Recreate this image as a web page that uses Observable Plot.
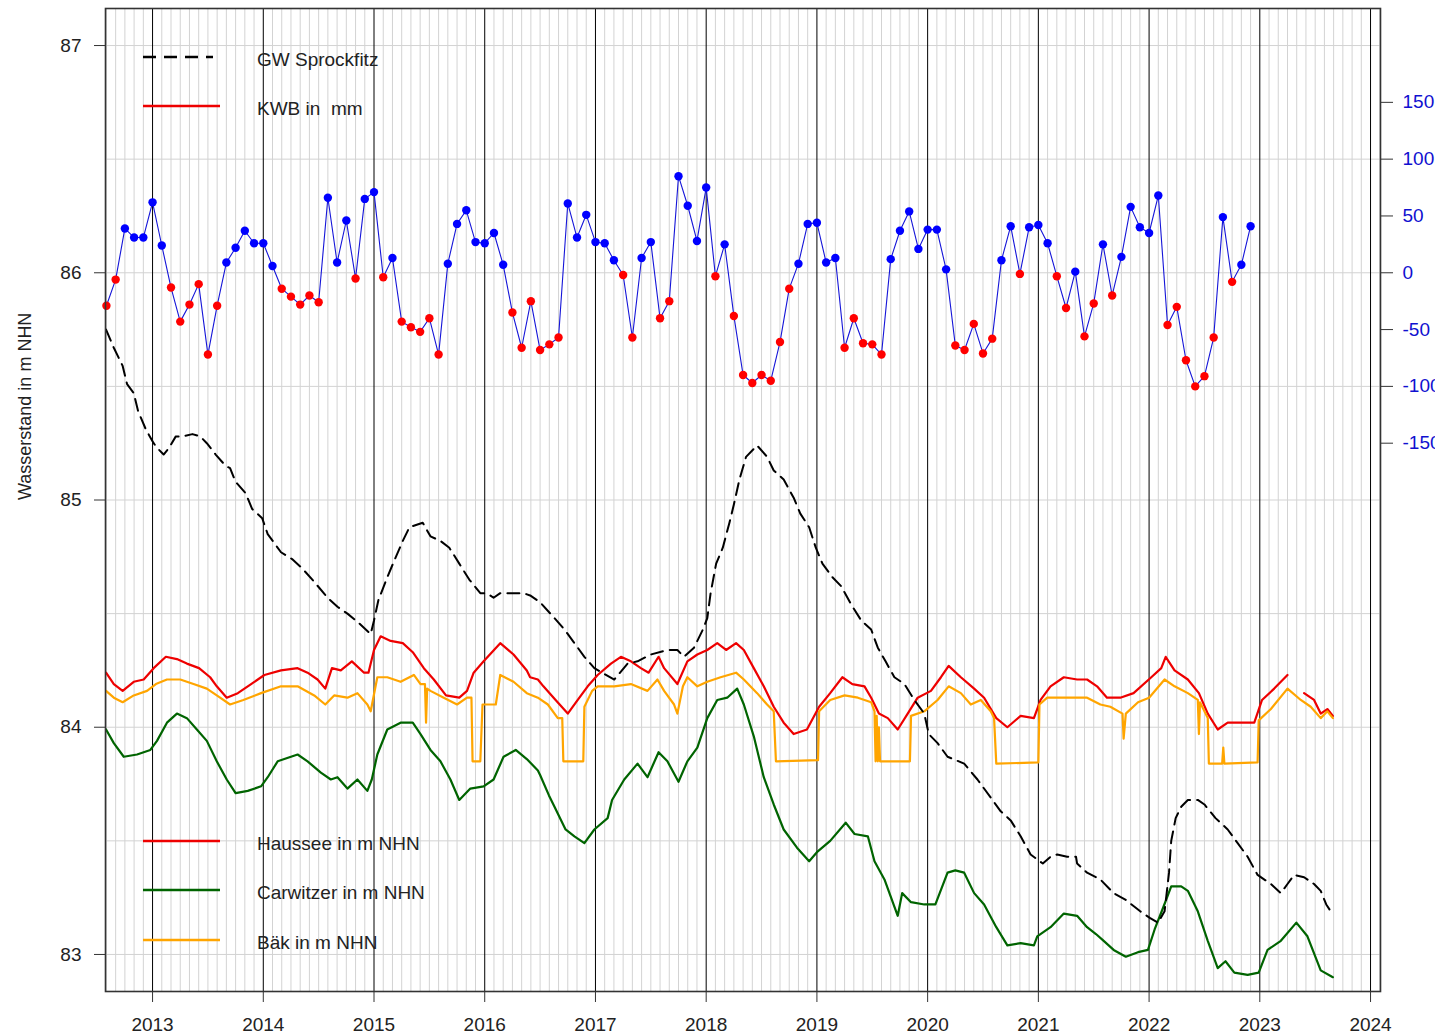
<!DOCTYPE html>
<html>
<head>
<meta charset="utf-8">
<script src="https://cdn.jsdelivr.net/npm/d3@7"></script>
<script src="https://cdn.jsdelivr.net/npm/@observablehq/plot@0.6"></script>
<style>
  html, body { margin: 0; padding: 0; background: #fff; }
  #chart { width: 1435px; height: 1035px; }
</style>
</head>
<body>
<div id="chart"></div>
<script>
// ---------- DATA (time in decimal years, levels in m NHN) ----------
const years = [2013, 2014, 2015, 2016, 2017, 2018, 2019, 2020, 2021, 2022, 2023, 2024];
const leftTicks = [83, 84, 85, 86, 87];
const rightTicksMm = [-150, -100, -50, 0, 50, 100, 150];

const gwSprockfitz = [[2012.58,85.75],[2012.65,85.67],[2012.73,85.59],[2012.77,85.51],[2012.83,85.47],[2012.87,85.39],[2012.94,85.31],[2013.01,85.25],[2013.04,85.23],[2013.10,85.20],[2013.15,85.23],[2013.21,85.28],[2013.27,85.28],[2013.36,85.29],[2013.43,85.28],[2013.49,85.25],[2013.57,85.20],[2013.66,85.15],[2013.70,85.14],[2013.75,85.08],[2013.84,85.03],[2013.90,84.96],[2013.99,84.92],[2014.04,84.85],[2014.10,84.81],[2014.16,84.77],[2014.26,84.74],[2014.35,84.70],[2014.46,84.64],[2014.58,84.57],[2014.67,84.53],[2014.76,84.50],[2014.86,84.46],[2014.97,84.41],[2015.00,84.47],[2015.04,84.56],[2015.12,84.66],[2015.18,84.73],[2015.26,84.82],[2015.32,84.88],[2015.44,84.90],[2015.51,84.84],[2015.60,84.82],[2015.68,84.79],[2015.77,84.72],[2015.86,84.65],[2015.96,84.59],[2016.02,84.59],[2016.08,84.57],[2016.14,84.59],[2016.25,84.59],[2016.35,84.59],[2016.41,84.58],[2016.50,84.55],[2016.63,84.48],[2016.72,84.43],[2016.81,84.37],[2016.90,84.31],[2016.99,84.26],[2017.06,84.24],[2017.17,84.21],[2017.29,84.28],[2017.38,84.29],[2017.50,84.32],[2017.65,84.34],[2017.74,84.34],[2017.80,84.31],[2017.89,84.35],[2017.97,84.43],[2018.01,84.48],[2018.04,84.59],[2018.09,84.72],[2018.15,84.79],[2018.21,84.90],[2018.25,84.98],[2018.30,85.09],[2018.36,85.19],[2018.46,85.24],[2018.55,85.19],[2018.61,85.13],[2018.70,85.09],[2018.79,85.01],[2018.85,84.94],[2018.93,84.88],[2018.99,84.79],[2019.05,84.72],[2019.14,84.66],[2019.22,84.62],[2019.31,84.54],[2019.40,84.47],[2019.49,84.43],[2019.55,84.35],[2019.62,84.29],[2019.70,84.22],[2019.79,84.19],[2019.88,84.12],[2019.97,84.06],[2020.01,83.97],[2020.09,83.93],[2020.18,83.87],[2020.33,83.84],[2020.45,83.77],[2020.57,83.69],[2020.66,83.63],[2020.75,83.59],[2020.84,83.52],[2020.93,83.44],[2021.04,83.40],[2021.11,83.43],[2021.17,83.44],[2021.26,83.43],[2021.34,83.43],[2021.35,83.40],[2021.44,83.36],[2021.56,83.33],[2021.68,83.27],[2021.79,83.24],[2021.92,83.19],[2022.01,83.16],[2022.08,83.14],[2022.14,83.19],[2022.18,83.36],[2022.20,83.50],[2022.24,83.60],[2022.29,83.65],[2022.35,83.68],[2022.44,83.68],[2022.50,83.66],[2022.60,83.60],[2022.71,83.55],[2022.80,83.49],[2022.89,83.43],[2022.98,83.35],[2023.10,83.31],[2023.19,83.27],[2023.25,83.31],[2023.31,83.35],[2023.40,83.34],[2023.49,83.31],[2023.55,83.28],[2023.60,83.22],[2023.64,83.19]];

const haussee = [[2012.58,84.24],[2012.65,84.19],[2012.73,84.16],[2012.83,84.20],[2012.92,84.21],[2013.01,84.26],[2013.12,84.31],[2013.22,84.30],[2013.31,84.28],[2013.42,84.26],[2013.52,84.22],[2013.58,84.18],[2013.67,84.13],[2013.77,84.15],[2013.89,84.19],[2014.01,84.23],[2014.16,84.25],[2014.31,84.26],[2014.40,84.24],[2014.49,84.21],[2014.56,84.17],[2014.62,84.26],[2014.70,84.25],[2014.80,84.29],[2014.91,84.24],[2014.95,84.24],[2015.00,84.34],[2015.06,84.40],[2015.15,84.38],[2015.26,84.37],[2015.35,84.33],[2015.45,84.26],[2015.54,84.21],[2015.65,84.14],[2015.77,84.13],[2015.84,84.16],[2015.90,84.24],[2015.99,84.29],[2016.14,84.37],[2016.26,84.32],[2016.38,84.25],[2016.41,84.22],[2016.48,84.21],[2016.53,84.18],[2016.64,84.12],[2016.75,84.06],[2016.84,84.12],[2016.93,84.18],[2017.02,84.23],[2017.14,84.28],[2017.23,84.31],[2017.32,84.29],[2017.41,84.26],[2017.48,84.24],[2017.57,84.31],[2017.62,84.26],[2017.74,84.19],[2017.83,84.29],[2017.92,84.32],[2018.01,84.34],[2018.10,84.37],[2018.18,84.34],[2018.27,84.37],[2018.34,84.34],[2018.43,84.26],[2018.52,84.18],[2018.61,84.09],[2018.70,84.02],[2018.79,83.97],[2018.91,83.99],[2019.02,84.09],[2019.12,84.15],[2019.23,84.22],[2019.32,84.19],[2019.43,84.18],[2019.49,84.13],[2019.56,84.06],[2019.64,84.04],[2019.73,83.99],[2019.82,84.06],[2019.91,84.13],[2020.03,84.16],[2020.12,84.22],[2020.19,84.27],[2020.30,84.22],[2020.42,84.17],[2020.51,84.13],[2020.62,84.04],[2020.72,84.00],[2020.84,84.05],[2020.96,84.04],[2021.02,84.12],[2021.11,84.18],[2021.23,84.22],[2021.35,84.21],[2021.44,84.21],[2021.53,84.18],[2021.62,84.13],[2021.74,84.13],[2021.86,84.15],[2022.02,84.22],[2022.11,84.26],[2022.15,84.31],[2022.23,84.25],[2022.35,84.21],[2022.45,84.15],[2022.53,84.06],[2022.62,83.99],[2022.71,84.02],[2022.83,84.02],[2022.95,84.02],[2023.02,84.12],[2023.13,84.17],[2023.25,84.23],[2023.32,null],[2023.40,84.15],[2023.49,84.12],[2023.55,84.06],[2023.61,84.08],[2023.66,84.05]];

const carwitzer = [[2012.58,83.99],[2012.65,83.93],[2012.74,83.87],[2012.86,83.88],[2012.98,83.90],[2013.04,83.94],[2013.13,84.02],[2013.22,84.06],[2013.31,84.04],[2013.40,83.99],[2013.49,83.94],[2013.58,83.85],[2013.67,83.77],[2013.75,83.71],[2013.86,83.72],[2013.98,83.74],[2014.04,83.78],[2014.13,83.85],[2014.31,83.88],[2014.40,83.85],[2014.52,83.80],[2014.61,83.77],[2014.67,83.78],[2014.76,83.73],[2014.85,83.77],[2014.94,83.72],[2014.98,83.77],[2015.03,83.88],[2015.12,83.99],[2015.24,84.02],[2015.35,84.02],[2015.42,83.97],[2015.51,83.90],[2015.60,83.85],[2015.69,83.77],[2015.77,83.68],[2015.87,83.73],[2015.99,83.74],[2016.08,83.77],[2016.17,83.87],[2016.28,83.90],[2016.38,83.86],[2016.48,83.81],[2016.50,83.79],[2016.58,83.70],[2016.63,83.65],[2016.73,83.55],[2016.81,83.52],[2016.90,83.49],[2016.99,83.55],[2017.11,83.60],[2017.15,83.68],[2017.26,83.77],[2017.38,83.84],[2017.47,83.78],[2017.57,83.89],[2017.65,83.85],[2017.75,83.76],[2017.83,83.85],[2017.92,83.91],[2018.01,84.04],[2018.10,84.12],[2018.19,84.13],[2018.28,84.17],[2018.34,84.10],[2018.43,83.96],[2018.52,83.78],[2018.61,83.66],[2018.70,83.55],[2018.82,83.47],[2018.93,83.41],[2019.00,83.45],[2019.12,83.50],[2019.26,83.58],[2019.34,83.53],[2019.46,83.52],[2019.52,83.41],[2019.61,83.33],[2019.73,83.17],[2019.77,83.27],[2019.85,83.23],[2019.97,83.22],[2020.07,83.22],[2020.18,83.36],[2020.25,83.37],[2020.33,83.36],[2020.42,83.27],[2020.51,83.22],[2020.62,83.12],[2020.72,83.04],[2020.84,83.05],[2020.96,83.04],[2020.99,83.08],[2021.11,83.12],[2021.23,83.18],[2021.35,83.17],[2021.44,83.12],[2021.52,83.09],[2021.59,83.06],[2021.68,83.02],[2021.79,82.99],[2021.90,83.01],[2021.99,83.02],[2022.05,83.11],[2022.13,83.21],[2022.20,83.30],[2022.29,83.30],[2022.35,83.28],[2022.44,83.19],[2022.53,83.06],[2022.62,82.94],[2022.69,82.97],[2022.77,82.92],[2022.89,82.91],[2022.99,82.92],[2023.07,83.02],[2023.19,83.06],[2023.33,83.14],[2023.43,83.08],[2023.55,82.93],[2023.66,82.90]];

const baek = [[2012.58,84.16],[2012.65,84.13],[2012.73,84.11],[2012.83,84.14],[2012.95,84.16],[2013.03,84.19],[2013.13,84.21],[2013.25,84.21],[2013.37,84.19],[2013.49,84.17],[2013.61,84.13],[2013.70,84.10],[2013.82,84.12],[2013.98,84.15],[2014.16,84.18],[2014.31,84.18],[2014.46,84.14],[2014.56,84.10],[2014.64,84.14],[2014.76,84.13],[2014.85,84.15],[2014.94,84.10],[2014.97,84.07],[2015.03,84.22],[2015.12,84.22],[2015.24,84.20],[2015.36,84.23],[2015.42,84.19],[2015.46,84.19],[2015.47,84.02],[2015.48,84.17],[2015.51,84.16],[2015.63,84.13],[2015.75,84.10],[2015.84,84.13],[2015.88,84.13],[2015.89,83.85],[2015.96,83.85],[2015.98,84.10],[2016.10,84.10],[2016.14,84.23],[2016.26,84.20],[2016.38,84.15],[2016.48,84.13],[2016.57,84.10],[2016.66,84.04],[2016.70,84.04],[2016.71,83.85],[2016.89,83.85],[2016.90,84.09],[2016.97,84.16],[2017.02,84.18],[2017.17,84.18],[2017.32,84.19],[2017.47,84.16],[2017.56,84.21],[2017.62,84.16],[2017.71,84.10],[2017.74,84.06],[2017.79,84.18],[2017.83,84.22],[2017.92,84.18],[2018.01,84.20],[2018.13,84.22],[2018.27,84.24],[2018.34,84.21],[2018.46,84.15],[2018.55,84.10],[2018.61,84.07],[2018.63,83.85],[2019.01,83.855],[2019.02,84.07],[2019.12,84.12],[2019.25,84.14],[2019.37,84.13],[2019.49,84.11],[2019.52,84.07],[2019.53,83.85],[2019.54,84.05],[2019.55,83.85],[2019.56,84.00],[2019.57,83.85],[2019.84,83.85],[2019.85,84.05],[2019.97,84.07],[2020.09,84.12],[2020.19,84.18],[2020.30,84.15],[2020.39,84.10],[2020.48,84.12],[2020.57,84.07],[2020.60,84.04],[2020.62,83.84],[2021.00,83.845],[2021.01,84.10],[2021.08,84.13],[2021.32,84.13],[2021.44,84.13],[2021.56,84.10],[2021.65,84.09],[2021.76,84.06],[2021.77,83.95],[2021.79,84.06],[2021.90,84.11],[2022.00,84.13],[2022.14,84.21],[2022.23,84.18],[2022.35,84.15],[2022.44,84.12],[2022.45,83.97],[2022.46,84.11],[2022.53,84.04],[2022.54,83.84],[2022.66,83.84],[2022.67,83.91],[2022.68,83.84],[2022.98,83.845],[2022.99,84.03],[2023.10,84.08],[2023.25,84.17],[2023.37,84.12],[2023.46,84.09],[2023.55,84.04],[2023.61,84.07],[2023.66,84.04]];

// Monthly climatic water balance (KWB) in mm, from Aug 2012 to Dec 2022
const kwbStart = 2012 + 7 / 12;
const kwbMm = [-29,-6,39,31,31,
  62,24,-13,-43,-28,-10,-72,-29,9,22,37,26,
  26,6,-14,-21,-28,-20,-26,66,9,46,-5,65,
  71,-4,13,-43,-48,-52,-40,-72,8,43,55,27,
  26,35,7,-35,-66,-25,-68,-63,-57,61,31,51,
  27,26,11,-2,-57,13,27,-40,-25,85,59,28,
  75,-3,25,-38,-90,-97,-90,-95,-61,-14,8,43,
  44,9,13,-66,-40,-62,-63,-72,12,37,54,21,
  38,38,3,-64,-68,-45,-71,-58,11,41,-1,40,
  42,26,-3,-31,1,-56,-27,25,-20,14,58,40,
  35,68,-46,-30,-77,-100,-91,-57,49,-8,7,41];

// ---------- SETUP ----------
const mmToM = 0.005;      // secondary axis: 0 mm sits at 86 m, 50 mm = 0.25 m
const mmZero = 86;
const toRows = arr => arr.map(([t, v]) => ({t, v}));
const kwbRows = kwbMm.map((mm, i) => ({t: kwbStart + i / 12, mm, v: mmZero + mm * mmToM}));
const monthLines = [];
for (let y = 2012; y <= 2024; y++) for (let m = 1; m < 12; m++) {
  const t = y + m / 12;
  if (t > 2012.575 && t < 2024.09) monthLines.push(t);
}
const hGrid = d3.range(83, 87.01, 0.5);
const font = "'Liberation Sans', Arial, Helvetica, sans-serif";
const textColor = "#222";

const svg = Plot.plot({
  width: 1435,
  height: 1035,
  marginLeft: 105,
  marginRight: 55,
  marginTop: 8,
  marginBottom: 44,
  x: {type: "linear", domain: [2012.575, 2024.09]},
  y: {domain: [82.837, 87.163]},
  style: {fontFamily: font, background: "#fff", color: textColor, overflow: "visible"},
  marks: [
    Plot.ruleX(monthLines, {stroke: "#d3d3d3", strokeWidth: 1}),
    Plot.ruleY(hGrid, {stroke: "#d3d3d3", strokeWidth: 1}),
    Plot.ruleX(years, {stroke: "#000", strokeWidth: 1}),
    Plot.line(toRows(haussee), {x: "t", y: "v", stroke: "#ee0000", strokeWidth: 2.2}),
    Plot.line(toRows(carwitzer), {x: "t", y: "v", stroke: "#006400", strokeWidth: 2.2}),
    Plot.line(toRows(baek), {x: "t", y: "v", stroke: "#ffa500", strokeWidth: 2.2}),
    Plot.line(toRows(gwSprockfitz), {x: "t", y: "v", stroke: "#000", strokeWidth: 2, strokeDasharray: "12,7"}),
    Plot.line(kwbRows, {x: "t", y: "v", stroke: "#1515d8", strokeWidth: 1.1}),
    Plot.dot(kwbRows, {x: "t", y: "v", r: 4.2, stroke: null, fill: d => d.mm >= 0 ? "#0000ff" : "#ff0000"}),
    Plot.frame({stroke: "#333", strokeWidth: 1.6}),
    Plot.axisX({ticks: years, tickFormat: d => String(d), tickSize: 11, tickPadding: 15, fontSize: 19, anchor: "bottom", label: null, stroke: "#333", fill: textColor}),
    Plot.axisY({ticks: leftTicks, tickFormat: d => String(d), tickSize: 11, tickPadding: 13, fontSize: 19, anchor: "left", label: null, stroke: "#333", fill: textColor}),
    Plot.axisY({ticks: rightTicksMm.map(mm => mmZero + mm * mmToM), tickFormat: d => String(Math.round((d - mmZero) / mmToM)), tickSize: 12, tickPadding: 10, fontSize: 19, anchor: "right", label: null, stroke: "#333", fill: "#1010d0"}),
    Plot.text(["Wasserstand in m NHN"], {frameAnchor: "left", dx: -80, rotate: -90, fontSize: 18, fill: textColor})
  ]
});

// ---------- LEGENDS (inside plot area, pixel layout) ----------
const legendTop = [
  {label: "GW Sprockfitz", color: "#000", dash: "13,8", x2: 213, y: 57},
  {label: "KWB in  mm", color: "#ee0000", dash: null, x2: 220, y: 106}
];
const legendBottom = [
  {label: "Haussee in m NHN", color: "#ee0000", dash: null, x2: 220, y: 841},
  {label: "Carwitzer in m NHN", color: "#006400", dash: null, x2: 220, y: 890},
  {label: "Bäk in m NHN", color: "#ffa500", dash: null, x2: 220, y: 940}
];
const lg = d3.select(svg).append("g").attr("font-family", font).attr("font-size", 19).attr("text-anchor", "start");
for (const item of [...legendTop, ...legendBottom]) {
  lg.append("line").attr("x1", 143).attr("x2", item.x2).attr("y1", item.y).attr("y2", item.y)
    .attr("stroke", item.color).attr("stroke-width", 2.3)
    .attr("stroke-dasharray", item.dash);
  lg.append("text").attr("x", 257).attr("y", item.y + 2).attr("dy", "0.35em")
    .attr("text-anchor", "start")
    .attr("fill", textColor).style("white-space", "pre").text(item.label);
}

document.getElementById("chart").appendChild(svg);
</script>
</body>
</html>
